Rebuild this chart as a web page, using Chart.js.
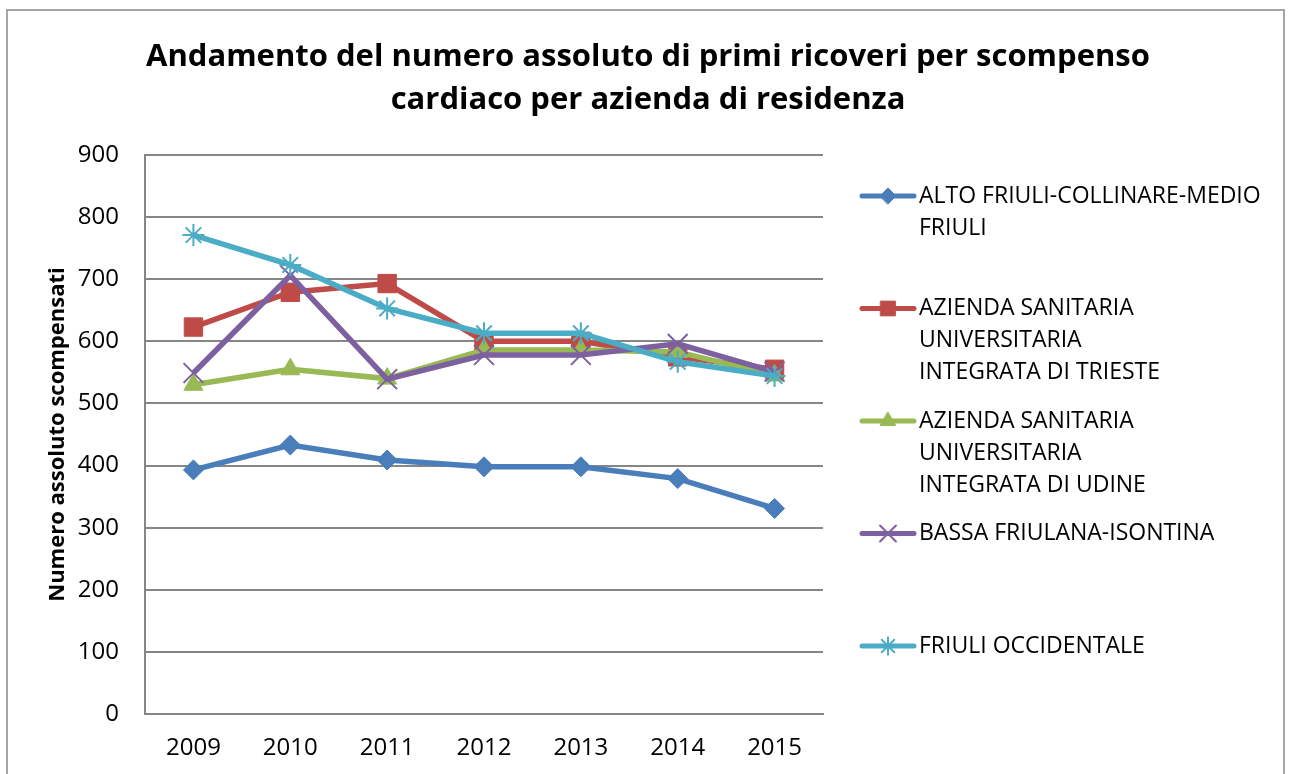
<!DOCTYPE html>
<html lang="it">
<head>
  <meta charset="UTF-8" />
  <title>Primi ricoveri per scompenso cardiaco</title>
  <script src="https://cdn.jsdelivr.net/npm/chart.js"></script>
  <style>
    body { margin: 0; background: #fff; }
    #wrap { position: relative; width: 1291px; height: 774px; }
  </style>
</head>
<body>
  <div id="wrap"><canvas id="chart"></canvas></div>

  <script>
    const years = ['2009', '2010', '2011', '2012', '2013', '2014', '2015'];

    const altoFriuli = [393, 433, 409, 398, 398, 379, 331];
    const trieste    = [623, 679, 693, 600, 600, 575, 555];
    const udine      = [530, 555, 540, 586, 586, 583, 545];
    const bassa      = [549, 706, 539, 578, 578, 596, 551];
    const occidentale = [771, 723, 653, 613, 613, 567, 544];

    // legend text, already split the way the original wraps it
    const seriesNames = [
      ['ALTO FRIULI-COLLINARE-MEDIO', 'FRIULI'],
      ['AZIENDA SANITARIA', 'UNIVERSITARIA', 'INTEGRATA DI TRIESTE'],
      ['AZIENDA SANITARIA', 'UNIVERSITARIA', 'INTEGRATA DI UDINE'],
      ['BASSA FRIULANA-ISONTINA'],
      ['FRIULI OCCIDENTALE']
    ];

    const titleLines = [
      'Andamento del numero assoluto di primi ricoveri per scompenso',
      'cardiaco per azienda di residenza'
    ];

    const yTicks = [0, 100, 200, 300, 400, 500, 600, 700, 800, 900];

    const FONT = "'Open Sans', sans-serif";

    const series = [
      { data: altoFriuli,  color: '#4A7EBB', style: 'rectRot',  radius: 10, bw: 1 },
      { data: trieste,     color: '#BE4B48', style: 'rect',     radius: 13, bw: 1 },
      { data: udine,       color: '#98B954', style: 'triangle', radius: 11, bw: 1 },
      { data: bassa,       color: '#7D60A0', style: 'crossRot', radius: 14, bw: 2 },
      { data: occidentale, color: '#4BACC6', style: 'star',     radius: 11, bw: 2 }
    ];

    // outer border + title, centred on the whole picture
    const frame = {
      id: 'frame',
      beforeDraw(chart) {
        const ctx = chart.ctx;
        ctx.save();
        ctx.fillStyle = '#fff';
        ctx.fillRect(0, 0, chart.width, chart.height);
        ctx.strokeStyle = '#a6a6a6';
        ctx.lineWidth = 2;
        ctx.strokeRect(7, 10, 1277, 800);
        ctx.fillStyle = '#000';
        ctx.font = 'bold 31px ' + FONT;
        ctx.textAlign = 'center';
        ctx.textBaseline = 'middle';
        titleLines.forEach((t, k) => ctx.fillText(t, 648, 57 + k * 43));
        ctx.restore();
      }
    };

    const sideLegend = {
      id: 'sideLegend',
      afterDraw(chart) {
        const ctx = chart.ctx;
        chart.data.datasets.forEach((ds, i) => {
          const s = series[i];
          const y = 196 + i * 112.5;
          ctx.save();
          ctx.strokeStyle = s.color;
          ctx.lineWidth = 5;
          ctx.lineCap = 'round';
          ctx.beginPath();
          ctx.moveTo(862, y);
          ctx.lineTo(914, y);
          ctx.stroke();
          ctx.fillStyle = s.color;
          ctx.strokeStyle = s.color;
          ctx.lineWidth = s.bw;
          Chart.helpers.drawPoint(ctx, { pointStyle: s.style, radius: s.radius * 0.8, rotation: 0, borderWidth: s.bw }, 888, y);
          ctx.fillStyle = '#000';
          ctx.font = '23px ' + FONT;
          ctx.textBaseline = 'middle';
          seriesNames[i].forEach((line, k) => ctx.fillText(line, 919, y + k * 32));
          ctx.restore();
        });
      }
    };

    new Chart(document.getElementById('chart'), {
      type: 'line',
      data: {
        labels: years,
        datasets: series.map((s, i) => ({
          label: seriesNames[i].join(' '),
          data: s.data,
          borderColor: s.color,
          backgroundColor: s.color,
          pointBackgroundColor: s.color,
          pointBorderColor: s.color,
          pointStyle: s.style,
          pointRadius: s.radius,
          pointBorderWidth: s.bw,
          borderWidth: 5.5,
          tension: 0,
          order: series.length - i
        }))
      },
      options: {
        responsive: true,
        maintainAspectRatio: false,
        animation: false,
        layout: { padding: { top: 155, left: 0, right: 468, bottom: 0 } },
        plugins: {
          legend: { display: false },
          tooltip: { enabled: false },
          title: { display: false }
        },
        scales: {
          x: {
            offset: true,
            grid: { display: false, drawTicks: false },
            border: { color: '#868686', width: 2 },
            ticks: { color: '#000', font: { family: FONT, size: 24 }, padding: 20, maxRotation: 0 },
            afterFit(scale) { scale.height = 60; }
          },
          y: {
            min: 0,
            max: 900,
            afterBuildTicks(scale) { scale.ticks = yTicks.map(v => ({ value: v })); },
            grid: { color: '#868686', lineWidth: 2, drawTicks: false },
            border: { color: '#868686', width: 2 },
            ticks: { color: '#000', font: { family: FONT, size: 24 }, padding: 26 },
            title: {
              display: true,
              text: 'Numero assoluto scompensati',
              color: '#000',
              font: { family: FONT, size: 22, weight: 'bold' },
              padding: { top: 45, bottom: 0 }
            },
            afterFit(scale) { scale.width = 145; }
          }
        }
      },
      plugins: [frame, sideLegend]
    });
  </script>
</body>
</html>
